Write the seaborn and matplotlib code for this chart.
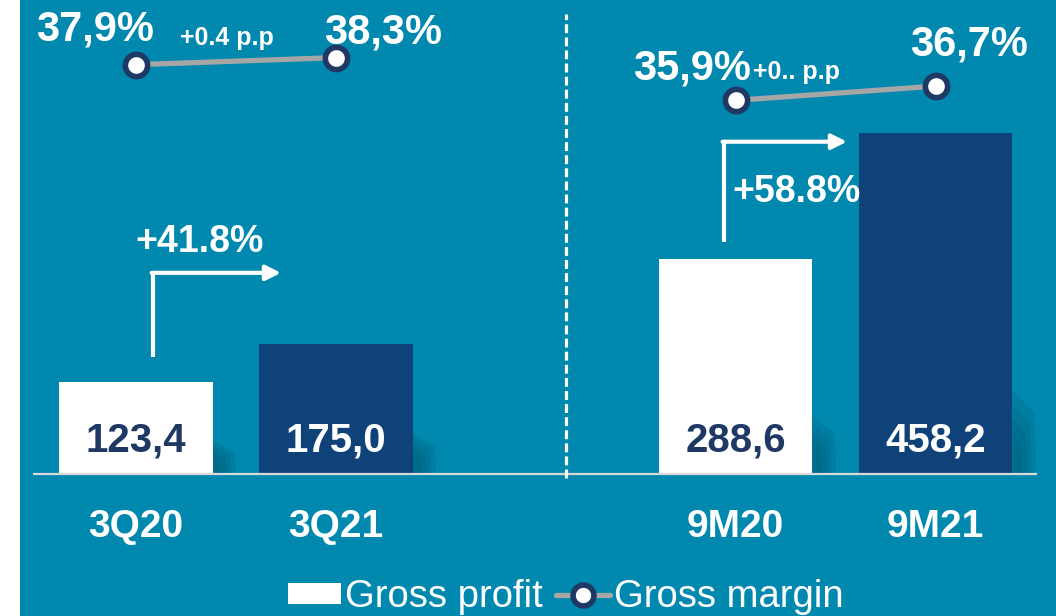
import matplotlib
matplotlib.use("Agg")
import matplotlib.pyplot as plt
import seaborn as sns
import pandas as pd
from matplotlib.lines import Line2D
from matplotlib.patches import Patch, Polygon

# Data
periods = ['3Q20', '3Q21', '9M20', '9M21']
gross_profit = [123.4, 175.0, 288.6, 458.2]
gross_margin = [37.9, 38.3, 35.9, 36.7]
profit_labels = ['123,4', '175,0', '288,6', '458,2']
margin_labels = ['37,9%', '38,3%', '35,9%', '36,7%']
period_group = ['quarter', 'quarter', 'nine_months', 'nine_months']
growth_labels = ['+41.8%', '+58.8%']
pp_labels = ['+0.4 p.p', '+0.. p.p']

# empty slot between the two groups
order = ['3Q20', '3Q21', '', '9M20', '9M21']
positions = [order.index(p) for p in periods]

TEAL = '#0088AE'
NAVY = '#10427A'
DARK = '#1F3864'
GRAY = '#A6A6A6'
bar_colors = {'3Q20': 'white', '3Q21': NAVY, '9M20': 'white', '9M21': NAVY}
BAR_W = 0.77

df = pd.DataFrame({'period': periods, 'profit': gross_profit,
                   'margin': gross_margin, 'pos': positions, 'group': period_group})

sns.set_style("white")
plt.rcParams['font.family'] = ['Liberation Sans', 'DejaVu Sans']

fig = plt.figure(figsize=(10.56, 6.16), dpi=100)
fig.patch.set_facecolor('white')
ax = fig.add_axes([20 / 1056, 0, 1 - 20 / 1056, 1])
ax.set_facecolor(TEAL)

# soft shadows to the right of the bars
for pos, h in zip(positions, gross_profit):
    xr = pos + BAR_W / 2
    for k in range(4):
        f = 1 - k * 0.2
        ax.add_patch(Polygon([(xr, 0), (xr, h * 0.2 * f + 20), (xr + 0.11 * f, h * 0.16 * f + 10),
                              (xr + 0.12 * f, 0)], closed=True, facecolor='#005B78',
                             edgecolor='none', alpha=0.22, zorder=1))

# Gross profit bars
sns.barplot(data=df, x='period', y='profit', hue='period', order=order,
            palette=bar_colors, width=BAR_W, linewidth=0, saturation=1,
            legend=False, ax=ax, zorder=2)

# Gross margin line on a second axis
ax2 = ax.twinx()
sns.lineplot(data=df, x='pos', y='margin', units='group', estimator=None,
             color=GRAY, lw=3.8, marker='o', ms=16, mfc='white', mec=DARK,
             mew=4, ax=ax2, zorder=5)

ax.set_xlim(-0.5775, 4.6025)
ax.set_ylim(-190.6, 636.2)
ax2.set_ylim(6.98, 41.53)
for a in (ax, ax2):
    a.set_xlabel('')
    a.set_ylabel('')
    a.set_xticks([])
    a.set_yticks([])
    for s in a.spines.values():
        s.set_visible(False)

# baseline and separator
ax.hlines(0, -0.5125, 4.5075, colors='#D9D9D9', lw=1.6, zorder=3)
ax.vlines(2.15, -5, 617, colors='white', lw=2.3, linestyles=(0, (2.8, 1.3)), zorder=3)

# values inside bars and period labels
for pos, period, lab in zip(positions, periods, profit_labels):
    txt_color = DARK if bar_colors[period] == 'white' else 'white'
    ax.text(pos, 45, lab, ha='center', va='center', fontsize=29,
            fontweight='bold', color=txt_color, zorder=4)
    ax.text(pos, -71, period, ha='center', va='center', fontsize=28,
            fontweight='bold', color='white')

# margin labels
label_offsets = [(-29, 25), (34, 18), (-31, 23), (24, 30)]
for pos, m, lab, off in zip(positions, gross_margin, margin_labels, label_offsets):
    ax2.annotate(lab, xy=(pos, m), xytext=off, textcoords='offset points',
                 ha='center', va='center', fontsize=30, fontweight='bold',
                 color='white', zorder=6)

# p.p change labels between the two points of each group
pp_offsets = [(-6, 17), (-28, 15)]
for i, (lab, off) in enumerate(zip(pp_labels, pp_offsets)):
    a, b = 2 * i, 2 * i + 1
    mid_x = (positions[a] + positions[b]) / 2
    mid_y = (gross_margin[a] + gross_margin[b]) / 2
    ax2.annotate(lab, xy=(mid_x, mid_y), xytext=off, textcoords='offset points',
                 ha='center', va='center', fontsize=18, fontweight='bold',
                 color='white', zorder=6)

# growth arrows: (x start, y bottom, y top, x end)
arrows = [(0.0875, 157, 270, 0.7275), (2.9425, 311, 446, 3.5575)]
growth_pos = [(0.3225, 311), (3.3025, 378.5)]
for (x0, y0, y1, x1), lab, (tx, ty) in zip(arrows, growth_labels, growth_pos):
    ax.plot([x0, x0], [y0, y1 + 2], color='white', lw=3, solid_capstyle='butt', zorder=4)
    ax.annotate('', xy=(x1, y1), xytext=(x0 - 0.007, y1),
                arrowprops=dict(arrowstyle='-|>,head_length=0.9,head_width=0.45',
                                color='white', lw=3, shrinkA=0, shrinkB=0), zorder=4)
    ax.text(tx, ty, lab, ha='center', va='center', fontsize=27,
            fontweight='bold', color='white', zorder=4)

# legend
handles = [Patch(facecolor='white', edgecolor='none'),
           Line2D([0], [0], color=GRAY, lw=3.8, marker='o', ms=15,
                  mfc='white', mec=DARK, mew=4)]
leg = ax.legend(handles, ['Gross profit', 'Gross margin'], loc='center',
                bbox_to_anchor=(0.5355, 0.031), bbox_transform=fig.transFigure,
                ncol=2, frameon=False, fontsize=27.5, handlelength=1.4,
                handleheight=0.48, handletextpad=0.1, columnspacing=0.35,
                labelcolor='white', borderpad=0, borderaxespad=0)

fig.savefig('out.png', dpi=100, facecolor=fig.get_facecolor())
